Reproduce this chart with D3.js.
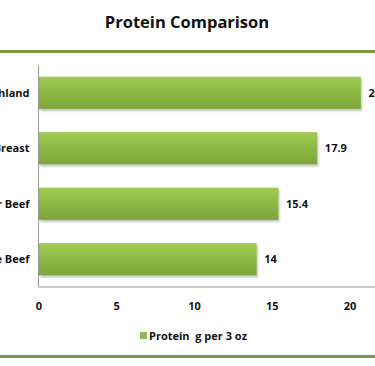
<!DOCTYPE html>
<html><head><meta charset="utf-8">
<script src="https://cdn.jsdelivr.net/npm/d3@7"></script>
<style>body{margin:0;background:#fff;overflow:hidden}svg{display:block}</style>
</head><body>
<script>
const categories = ["Scottish Highland", "Chicken Breast", "Regular Beef", "Choice Beef"];
const values = [20.7, 17.9, 15.4, 14];
const ticks = [0, 5, 10, 15, 20, 25];
const title = "Protein Comparison";
const seriesName = "Protein  g per 3 oz";

const W = 375, H = 366;
const svg = d3.select("body").append("svg").attr("width", W).attr("height", H);
const font = "'Open Sans', sans-serif";

const defs = svg.append("defs");
const grad = defs.append("linearGradient").attr("id", "g").attr("x1", 0).attr("y1", 0).attr("x2", 0).attr("y2", 1);
grad.append("stop").attr("offset", "0%").attr("stop-color", "#9fcb52");
grad.append("stop").attr("offset", "100%").attr("stop-color", "#7da53a");
const f = defs.append("filter").attr("id", "sh").attr("x", "-5%").attr("y", "-10%").attr("width", "115%").attr("height", "140%");
f.append("feDropShadow").attr("dx", 1).attr("dy", 2).attr("stdDeviation", 1.2).attr("flood-color", "#000").attr("flood-opacity", 0.25);

svg.append("text").attr("x", 187).attr("y", 28).attr("text-anchor", "middle")
  .attr("font-family", font).attr("font-weight", "bold").attr("font-size", 16.5).attr("fill", "#111").text(title);

svg.append("rect").attr("x", 0).attr("y", 50).attr("width", W).attr("height", 3).attr("fill", "#7b9a43");
svg.append("rect").attr("x", 0).attr("y", 355).attr("width", W).attr("height", 3).attr("fill", "#7b9a43");

const x0 = 38.5;
const x = d3.scaleLinear().domain([0, 25]).range([x0, x0 + 25 * 15.55]);
const y = d3.scaleBand().domain(categories).range([65, 287]).paddingInner(0.42).paddingOuter(0.21);

// plot frame
svg.append("line").attr("x1", x0).attr("x2", x0).attr("y1", 65).attr("y2", 287).attr("stroke", "#999").attr("stroke-width", 1);
svg.append("line").attr("x1", x0).attr("x2", W).attr("y1", 287).attr("y2", 287).attr("stroke", "#999").attr("stroke-width", 1);

svg.append("g").selectAll("rect").data(values).join("rect")
  .attr("x", x(0) + 0.5).attr("y", (d, i) => y(categories[i]))
  .attr("width", d => x(d) - x(0)).attr("height", y.bandwidth())
  .attr("fill", "url(#g)").attr("filter", "url(#sh)");

svg.append("g").selectAll("text").data(values).join("text")
  .attr("x", d => x(d) + 8).attr("y", (d, i) => y(categories[i]) + y.bandwidth() / 2 + 4)
  .attr("font-family", font).attr("font-weight", "bold").attr("font-size", 11).attr("fill", "#111")
  .text(d => d);

const yAxis = d3.axisLeft(y).tickSize(0).tickPadding(9);
const ya = svg.append("g").attr("transform", `translate(${x0},0)`).call(yAxis);
ya.select(".domain").remove();
ya.selectAll("text").attr("font-family", font).attr("font-weight", "bold").attr("font-size", 11).attr("fill", "#111").attr("dy", "0.35em");

const xAxis = d3.axisBottom(x).tickValues(ticks).tickSize(0).tickPadding(15).tickFormat(d3.format("d"));
const xa = svg.append("g").attr("transform", "translate(0,287)").call(xAxis);
xa.select(".domain").remove();
xa.selectAll("text").attr("font-family", font).attr("font-weight", "bold").attr("font-size", 11).attr("fill", "#111");

const lg = svg.append("g").attr("transform", "translate(140,338)");
lg.append("rect").attr("x", 0).attr("y", -6).attr("width", 7).attr("height", 7).attr("fill", "#8fbb4a");
lg.append("text").attr("x", 9).attr("y", 1.5).attr("font-family", font).attr("font-weight", "bold").attr("font-size", 11).attr("fill", "#111")
  .attr("xml:space", "preserve").style("white-space", "pre").text(seriesName);
</script>
</body></html>
